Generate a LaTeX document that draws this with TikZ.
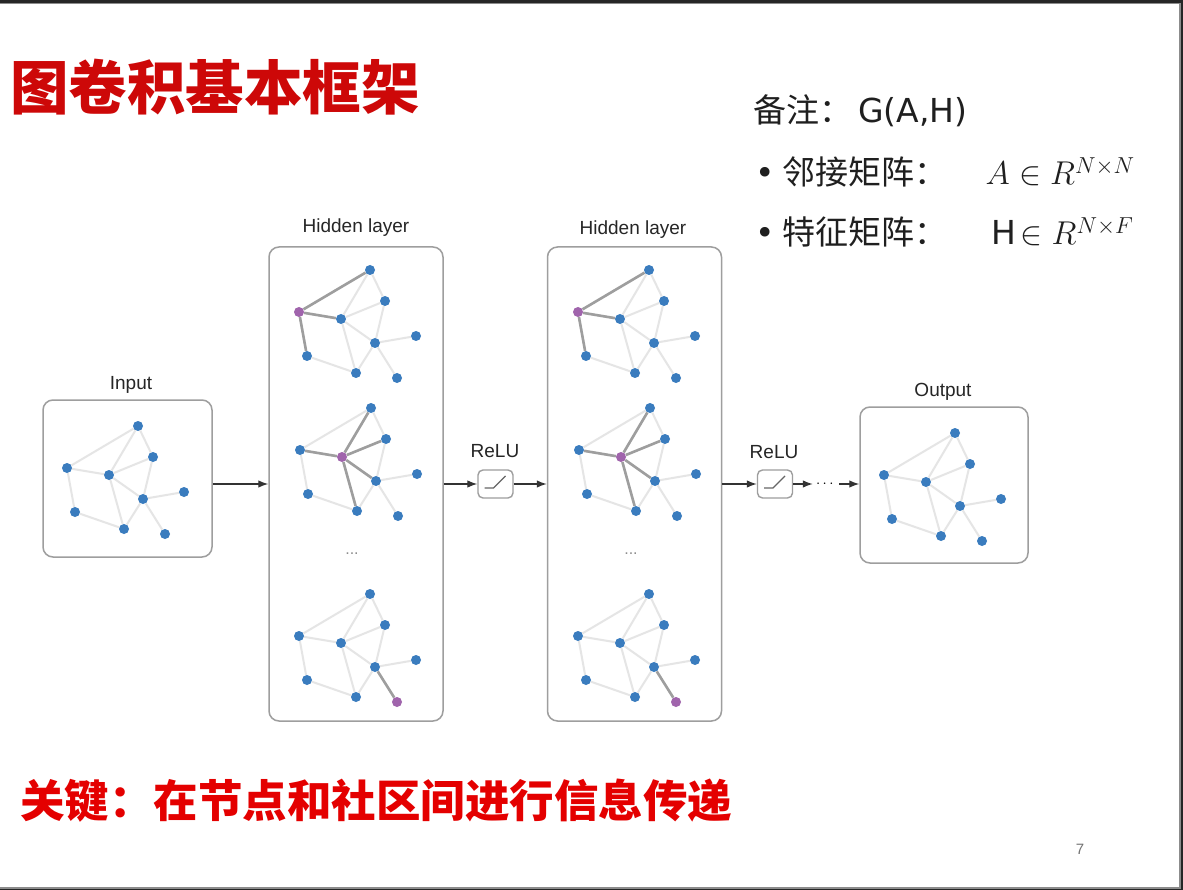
\RequirePackage{fix-cm}
\documentclass[tikz,border=0pt]{standalone}
\usepackage{fontspec}
\usepackage{amsmath}
\usetikzlibrary{positioning, arrows.meta}
\newfontfamily\cjk{Noto Sans CJK SC}
\newfontfamily\lat{DejaVu Sans}
\newfontfamily\lbl{Liberation Sans}
\definecolor{nodeblue}{RGB}{58,124,190}
\definecolor{nodepurple}{RGB}{160,100,172}
\definecolor{titlered}{RGB}{205,8,8}
\definecolor{keyred}{RGB}{228,0,0}
\pgfdeclarelayer{slide}
\pgfdeclarelayer{links}
\pgfsetlayers{slide,links,main}
\tikzset{
  >={Latex[length=10pt,width=7.5pt]},
  gnode/.style={circle, fill=nodeblue, inner sep=0pt, minimum size=10pt},
  hnode/.style={gnode, fill=nodepurple},
  lightedge/.style={draw=black!10, line width=2pt},
  darkedge/.style={draw=black!38, line width=2.6pt},
  panel/.style={draw=black!38, line width=1.5pt, rounded corners=10pt},
  relubox/.style={draw=black!38, line width=1.4pt, rounded corners=5pt,
    minimum width=35pt, minimum height=28pt},
  ramp/.style={draw=black!60, line width=1.3pt},
  flow/.style={->, draw=black!80, line width=1.3pt},
  caption/.style={font=\lbl\fontsize{19}{22}\selectfont, text=black!85,
    anchor=base, inner sep=0pt},
  notes/.style={font=\cjk\fontsize{33}{40}\selectfont, text=black!88,
    anchor=base west, inner sep=0pt},
}
% small graph: #1 name, #2 top left, #3 marked node, #4 marked links
\newcommand{\smallgraph}[4]{
  \begin{scope}[shift={(#2)}]
    \foreach \n/\px/\py in {1/95/26, 2/110/57, 3/24/68, 4/66/75, 5/141/92,
                            6/100/99, 7/32/112, 8/81/129, 9/122/134} {
      \ifnum\n=#3 \def\kind{hnode}\else\def\kind{gnode}\fi
      \node[\kind] (#1\n) at (\px,\py) {};
    }
  \end{scope}
  \begin{pgfonlayer}{links}
    \foreach \a/\b in {1/3,1/4,1/2,2/4,2/6,3/4,4/6,4/8,6/5,6/9,6/8,3/7,7/8}
      \draw[lightedge] (#1\a) -- (#1\b);
    \if\relax\detokenize{#4}\relax\else
      \foreach \a/\b in {#4}
        \draw[darkedge] (#1\a) -- (#1\b);
    \fi
  \end{pgfonlayer}
}

\begin{document}
\begin{tikzpicture}[x=1pt, y=-1pt]
  \useasboundingbox (0,0) rectangle (1183,890);
  \begin{pgfonlayer}{slide}
    \fill[black!85] (0,0) rectangle (1183,890);
    \fill[black!45] (0,3) rectangle (1181,889);
    \fill[white] (0,4) rectangle (1179,887);
  \end{pgfonlayer}

  % texts
  \node[anchor=base west, inner sep=0pt, text=titlered,
    font=\cjk\bfseries\fontsize{58.5}{60}\selectfont] (title) at (10,110) {图卷积基本框架};
  \node[notes] (note) at (753,123) {备注：\hspace{6pt}{\lat G(A,H)}};
  \node[notes] (adj) at (755,185)
    {{\lat •}\hspace{8pt}邻接矩阵：\hspace{38pt}$A \in R^{N\times N}$};
  \node[notes] (feat) at (755,245)
    {{\lat •}\hspace{8pt}特征矩阵：\hspace{44pt}{\lat H}\hspace{4pt}$\in R^{N\times F}$};
  \node[anchor=base west, inner sep=0pt, text=keyred,
    font=\cjk\bfseries\fontsize{44.5}{48}\selectfont] (key) at (20,817)
    {关键：在节点和社区间进行信息传递};
  \node[font=\lbl\fontsize{15}{15}\selectfont, text=black!55] (pagenum) at (1080,849) {7};

  % panels
  \node[panel, minimum width=169pt, minimum height=157pt] (inbox) at (127.5,478.5) {};
  \node[panel, minimum width=174pt, minimum height=474pt] (h1box) at (356,484) {};
  \node[panel, minimum width=174pt, minimum height=474pt] (h2box) at (634.5,484) {};
  \node[panel, minimum width=168pt, minimum height=156pt] (outbox) at (944,485) {};
  \node[relubox] (relu1) at (495.5,484) {};
  \node[relubox] (relu2) at (775,484) {};
  \draw[ramp] ([shift={(-11,4)}]relu1.center) -- ++(9,0) -- ++(12,-12);
  \draw[ramp] ([shift={(-11,4)}]relu2.center) -- ++(9,0) -- ++(12,-12);

  \node[caption] (inlbl) at (131,389) {Input};
  \node[caption] (h1lbl) at (356,233) {Hidden layer};
  \node[caption] (h2lbl) at (633,235) {Hidden layer};
  \node[caption] (r1lbl) at (495,457) {ReLU};
  \node[caption] (r2lbl) at (774,458) {ReLU};
  \node[caption] (outlbl) at (943,396) {Output};
  \node[text=black!45, font=\lbl\fontsize{16}{16}\selectfont] (h1dots) at (352,554) {...};
  \node[text=black!45, font=\lbl\fontsize{16}{16}\selectfont] (h2dots) at (631,554) {...};

  % graphs
  \smallgraph{in}{43,400}{0}{}
  \smallgraph{h1a}{275,244}{3}{1/3,3/4,3/7}
  \smallgraph{h1b}{276,382}{4}{1/4,2/4,3/4,4/6,4/8}
  \smallgraph{h1c}{275,568}{9}{6/9}
  \smallgraph{h2a}{554,244}{3}{1/3,3/4,3/7}
  \smallgraph{h2b}{555,382}{4}{1/4,2/4,3/4,4/6,4/8}
  \smallgraph{h2c}{554,568}{9}{6/9}
  \smallgraph{out}{860,407}{0}{}

  % arrows
  \node[inner sep=3pt, font=\fontsize{15}{15}\selectfont] (fdots) at (826,484) {$\cdots$};
  \draw[flow] (inbox.east |- h1box) -- (h1box.west);
  \draw[flow] (h1box.east) -- (relu1.west);
  \draw[flow] (relu1.east) -- (h2box.west);
  \draw[flow] (h2box.east) -- (relu2.west);
  \draw[flow] (relu2.east) -- (fdots.west);
  \draw[flow] (fdots.east) -- (fdots.east -| outbox.west);
\end{tikzpicture}
\end{document}
